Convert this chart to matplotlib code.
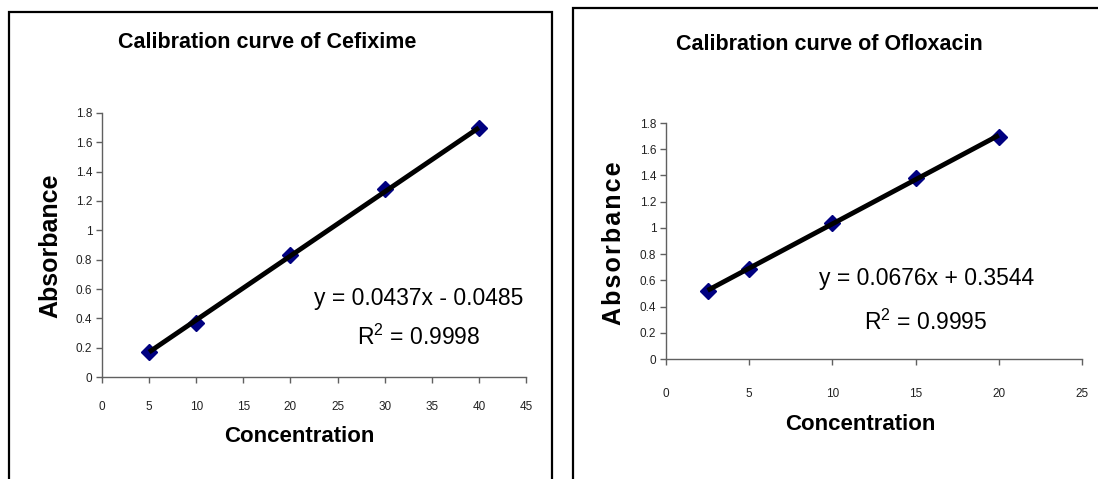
import matplotlib

matplotlib.use("Agg")
import matplotlib.pyplot as plt
import numpy as np
from matplotlib.patches import Rectangle
from matplotlib.ticker import FuncFormatter

# Cefixime calibration
cef_conc = [5, 10, 20, 30, 40]
cef_abs = [0.17, 0.37, 0.83, 1.28, 1.70]
cef_slope, cef_icpt = 0.0437, -0.0485
cef_eq = "y = 0.0437x - 0.0485"
cef_r2 = "R$^2$ = 0.9998"

# Ofloxacin calibration
oflo_conc = [2.5, 5, 10, 15, 20]
oflo_abs = [0.52, 0.69, 1.04, 1.38, 1.69]
oflo_slope, oflo_icpt = 0.0676, 0.3544
oflo_eq = "y = 0.0676x + 0.3544"
oflo_r2 = "R$^2$ = 0.9995"

W, H = 1098, 479
FONT = ["Liberation Sans", "DejaVu Sans"]
plt.rcParams["font.family"] = FONT
plt.rcParams["mathtext.fontset"] = "custom"
plt.rcParams["mathtext.rm"] = "Liberation Sans"


def px_rect(x0, y0, x1, y1):
    # pixel box (top-left origin) -> figure fraction [left, bottom, w, h]
    return [x0 / W, 1 - y1 / H, (x1 - x0) / W, (y1 - y0) / H]


def fx(x):
    return x / W


def fy(y):
    return 1 - y / H


gfmt = FuncFormatter(lambda v, _: f"{v:g}")

fig = plt.figure(figsize=(W / 100, H / 100), dpi=100)

# chart frames
for x0, y0, x1 in [(9, 12, 552), (573, 8, 1110)]:
    fig.patches.append(
        Rectangle((fx(x0), fy(500)), fx(x1) - fx(x0), fy(y0) - fy(500),
                  transform=fig.transFigure, fill=False, lw=1.6, ec="black")
    )


def draw(ax, conc, absb, slope, icpt, xmax, xpad):
    ax.plot(conc, absb, linestyle="none", marker="D", ms=8, mfc="#000080",
            mec="#000080", zorder=2)
    xs = np.array([conc[0], conc[-1]])
    ax.plot(xs, slope * xs + icpt, color="black", lw=3.5, zorder=3,
            solid_capstyle="butt")
    ax.set_xlim(0, xmax)
    ax.set_ylim(0, 1.8)
    ax.set_xticks(np.arange(0, xmax + 1, 5))
    ax.set_yticks(np.arange(0, 1.81, 0.2))
    ax.yaxis.set_major_formatter(gfmt)
    ax.xaxis.set_major_formatter(gfmt)
    for s in ["top", "right"]:
        ax.spines[s].set_visible(False)
    for s in ["left", "bottom"]:
        ax.spines[s].set_color("#606060")
        ax.spines[s].set_linewidth(1.0)
    ax.tick_params(axis="both", direction="out", length=4, width=1.0,
                   color="#606060", labelsize=8.5, labelcolor="#222222")
    ax.tick_params(axis="x", pad=xpad)
    ax.tick_params(axis="y", pad=3)


ax1 = fig.add_axes(px_rect(102, 113, 526, 377))
draw(ax1, cef_conc, cef_abs, cef_slope, cef_icpt, 45, 13)
ax2 = fig.add_axes(px_rect(666, 123, 1082, 359))
draw(ax2, oflo_conc, oflo_abs, oflo_slope, oflo_icpt, 25, 17)

# titles
fig.text(fx(267), fy(43), "Calibration curve of Cefixime", ha="center",
         va="center", fontsize=15.5, fontweight="bold")
fig.text(fx(829), fy(45), "Calibration curve of Ofloxacin", ha="center",
         va="center", fontsize=15.5, fontweight="bold")

# axis labels
fig.text(fx(50), fy(246), "Absorbance", rotation=90, ha="center",
         va="center", fontsize=18, fontweight="bold")
fig.text(fx(614), fy(243), "A\u200ab\u200as\u200ao\u200ar\u200ab\u200aa\u200an\u200ac\u200ae",
         rotation=90, ha="center", va="center", fontsize=18, fontweight="bold")
fig.text(fx(299), fy(437), "Concentration", ha="center", va="center",
         fontsize=16, fontweight="bold")
fig.text(fx(860), fy(425), "Concentration", ha="center", va="center",
         fontsize=16, fontweight="bold")

# regression equations
fig.text(fx(419), fy(298), cef_eq, ha="center", va="center", fontsize=16.5)
fig.text(fx(419), fy(337), cef_r2, ha="center", va="center", fontsize=16.5)
fig.text(fx(927), fy(278), oflo_eq, ha="center", va="center", fontsize=16.5)
fig.text(fx(926), fy(322), oflo_r2, ha="center", va="center", fontsize=16.5)

fig.savefig("out.png", dpi=100)
